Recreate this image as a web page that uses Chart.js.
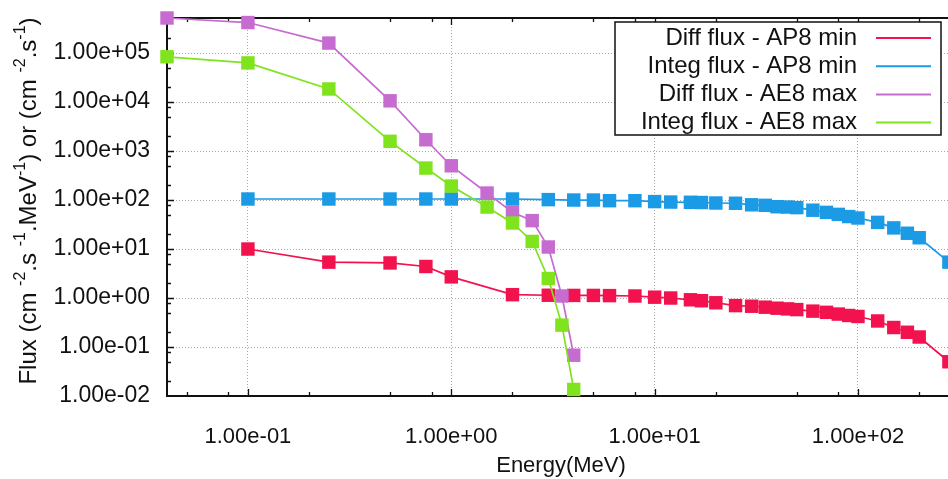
<!DOCTYPE html>
<html>
<head>
<meta charset="utf-8">
<script src="https://cdn.jsdelivr.net/npm/chart.js@4"></script>
<style>
  html, body { margin: 0; padding: 0; background: #fff; overflow: hidden; }
  .wrapper { width: 980px; height: 479px; position: relative; }
</style>
</head>
<body>
<div class="wrapper"><canvas id="fluxChart"></canvas></div>
<script>
// AP8 min (protons) - energies in MeV, flux values
const apEnergy = [0.1, 0.25, 0.5, 0.75, 1, 2, 3, 4, 5, 6, 8, 10, 12, 15, 17, 20, 25, 30, 35, 40, 45, 50, 60, 70, 80, 90, 100, 125, 150, 175, 200, 280]
const apDiff = [10, 5.4, 5.2, 4.4, 2.7, 1.17, 1.14, 1.13, 1.13, 1.12, 1.1, 1.04, 1.0, 0.92, 0.88, 0.8, 0.7, 0.68, 0.65, 0.62, 0.6, 0.58, 0.54, 0.51, 0.47, 0.44, 0.42, 0.34, 0.25, 0.2, 0.16, 0.05]
const apInteg = [105, 105, 105, 105, 105, 105, 102, 100, 100, 97, 97, 93, 91, 90, 89, 87, 86, 80, 78, 73, 72, 70, 62, 56, 51, 46, 43, 35, 27, 21, 17, 5.4]

// AE8 max (electrons)
const aeEnergy = [0.04, 0.1, 0.25, 0.5, 0.75, 1, 1.5, 2, 2.5, 3, 3.5, 4]
const aeDiff = [5.2e5, 4.2e5, 1.6e5, 1.06e4, 1700, 500, 139, 56, 38, 11, 1.1, 0.068]
const aeInteg = [8.4e4, 6.3e4, 1.85e4, 1580, 450, 193, 72, 34, 14.3, 2.5, 0.28, 0.0136]

const xTicks = [0.1, 1, 10, 100]
const yTicks = [1e-2, 1e-1, 1, 10, 100, 1e3, 1e4, 1e5]

const FONT = 'Liberation Sans, Arial, sans-serif'

// 1.00e+05 style labels like gnuplot
const sci = v => {
    const e = Math.round(Math.log10(v))
    const m = v / Math.pow(10, e)
    return m.toFixed(2) + 'e' + (e < 0 ? '-' : '+') + String(Math.abs(e)).padStart(2, '0')
}

const toPoints = (xs, ys) => xs.map((x, i) => ({ x: x, y: ys[i] }))

const series = (label, xs, ys, color, order) => ({
    label: label,
    data: toPoints(xs, ys),
    borderColor: color,
    backgroundColor: color,
    borderWidth: 1.7,
    pointStyle: 'rect',
    pointRadius: 9.5,
    pointBorderWidth: 0,
    tension: 0,
    clip: false,
    order: order
})

// border box + inward ticks (gnuplot look)
const frame = {
    id: 'frame',
    beforeDatasetsDraw(chart) {
        const { ctx, chartArea: a, scales: { x, y } } = chart
        ctx.save()
        ctx.strokeStyle = '#111'
        ctx.lineWidth = 1.3
        ctx.beginPath()
        for (let d = -3; d <= 6; d++) {
            for (const m of [1, 2, 5, 8]) {
                const v = m * Math.pow(10, d)
                const len = m === 1 ? 7 : 4
                if (v > x.min && v < x.max) {
                    const px = Math.round(x.getPixelForValue(v)) + 0.5
                    ctx.moveTo(px, a.bottom); ctx.lineTo(px, a.bottom - len)
                    ctx.moveTo(px, a.top); ctx.lineTo(px, a.top + len)
                }
                if (v > y.min && v < y.max) {
                    const py = Math.round(y.getPixelForValue(v)) + 0.5
                    ctx.moveTo(a.left, py); ctx.lineTo(a.left + len, py)
                    ctx.moveTo(a.right, py); ctx.lineTo(a.right - len, py)
                }
            }
        }
        ctx.stroke()
        ctx.lineWidth = 2
        ctx.strokeRect(a.left, a.top, a.right - a.left, a.bottom - a.top)
        ctx.restore()
    }
}

// legend: text on the left, line sample on the right, boxed
const keyBox = {
    id: 'keyBox',
    afterDraw(chart) {
        const ctx = chart.ctx
        const box = { left: 615, top: 22, right: 941, bottom: 135 }
        ctx.save()
        ctx.fillStyle = '#fff'
        ctx.fillRect(box.left, box.top, box.right - box.left, box.bottom - box.top)
        ctx.strokeStyle = '#111'
        ctx.lineWidth = 1.5
        ctx.strokeRect(box.left, box.top, box.right - box.left, box.bottom - box.top)
        ctx.font = '24px ' + FONT
        ctx.textAlign = 'right'
        ctx.textBaseline = 'middle'
        chart.data.datasets.forEach((ds, i) => {
            const yy = box.top + 16 + i * 28.2
            ctx.fillStyle = '#111'
            ctx.fillText(ds.label, 857, yy)
            ctx.strokeStyle = ds.borderColor
            ctx.lineWidth = 2
            ctx.beginPath()
            ctx.moveTo(876, yy); ctx.lineTo(931, yy)
            ctx.stroke()
        })
        ctx.restore()
    }
}

// rotated y title with superscripts
const yTitle = {
    id: 'yTitle',
    afterDraw(chart) {
        const ctx = chart.ctx
        const parts = [
            ['Flux (cm ', 0], ['-2', 1], ['.s ', 0], ['-1', 1], ['.MeV', 0], ['-1', 1],
            [') or (cm ', 0], ['-2', 1], ['.s', 0], ['-1', 1], [')', 0]
        ]
        const big = '24px ' + FONT, small = '16px ' + FONT
        ctx.save()
        let total = 0
        parts.forEach(p => { ctx.font = p[1] ? small : big; total += ctx.measureText(p[0]).width })
        ctx.translate(29, 201)
        ctx.rotate(-Math.PI / 2)
        ctx.fillStyle = '#111'
        ctx.textBaseline = 'middle'
        let cx = -total / 2
        parts.forEach(p => {
            ctx.font = p[1] ? small : big
            ctx.fillText(p[0], cx, p[1] ? -8 : 0)
            cx += ctx.measureText(p[0]).width
        })
        ctx.restore()
    }
}

const ctx = document.getElementById('fluxChart')

const fluxChart = new Chart(ctx, {
    type: 'line',
    data: {
        datasets: [
            series('Diff flux - AP8 min', apEnergy, apDiff, '#f2124e', 3),
            series('Integ flux - AP8 min', apEnergy, apInteg, '#1b9ae6', 2),
            series('Diff flux - AE8 max', aeEnergy, aeDiff, '#c66bd0', 1),
            series('Integ flux - AE8 max', aeEnergy, aeInteg, '#7fe31d', 0)
        ]
    },
    options: {
        responsive: true,
        maintainAspectRatio: false,
        animation: false,
        events: [],
        layout: { padding: { top: 18, right: 25, left: 0, bottom: 0 } },
        plugins: {
            legend: { display: false },
            tooltip: { enabled: false }
        },
        scales: {
            x: {
                type: 'logarithmic',
                min: 0.04,
                max: 300,
                afterBuildTicks: s => { s.ticks = xTicks.map(v => ({ value: v })) },
                afterFit: s => { s.height = 83; s.paddingLeft = 0; s.paddingRight = 0 },
                grid: { color: '#a8a8a8', lineWidth: 1, drawTicks: false },
                border: { display: false, dash: [1, 2] },
                ticks: {
                    callback: v => sci(v),
                    font: { family: FONT, size: 22 },
                    color: '#111',
                    padding: 28,
                    maxRotation: 0,
                    autoSkip: false
                },
                title: {
                    display: true,
                    text: 'Energy(MeV)',
                    font: { family: FONT, size: 22 },
                    color: '#111',
                    padding: { top: 0, bottom: 0 }
                }
            },
            y: {
                type: 'logarithmic',
                min: 0.01,
                max: 5.2e5,
                afterBuildTicks: s => { s.ticks = yTicks.map(v => ({ value: v })) },
                afterFit: s => { s.width = 167; s.paddingTop = 0; s.paddingBottom = 0 },
                grid: { color: '#a8a8a8', lineWidth: 1, drawTicks: false },
                border: { display: false, dash: [1, 2] },
                ticks: {
                    callback: v => sci(v),
                    font: { family: FONT, size: 23 },
                    color: '#111',
                    padding: 17,
                    autoSkip: false
                }
            }
        }
    },
    plugins: [frame, keyBox, yTitle]
})
</script>
</body>
</html>
